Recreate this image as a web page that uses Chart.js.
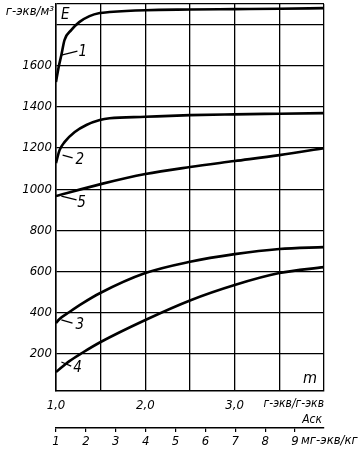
<!DOCTYPE html>
<html>
<head>
<meta charset="utf-8">
<script src="https://cdn.jsdelivr.net/npm/chart.js@4.4.0/dist/chart.umd.min.js"></script>
<style>
  html, body { margin: 0; padding: 0; background: #fff; }
  canvas { display: block; }
</style>
</head>
<body>
<canvas id="chart" width="361" height="450"></canvas>
<script>
// values: m (г-экв/г-экв) vs E (г-экв/м³)
var curve1X = [1.0, 1.03, 1.06, 1.095, 1.17, 1.26, 1.375, 1.49, 1.6, 2.0, 2.5, 3.0, 3.5, 4.0];
var curve1Y = [1521, 1594, 1652, 1725, 1773, 1812, 1841, 1856, 1861, 1870, 1873, 1875, 1877, 1880];

var curve2X = [1.0, 1.04, 1.095, 1.21, 1.34, 1.49, 1.6, 2.0, 2.5, 3.0, 3.5, 4.0];
var curve2Y = [1127, 1190, 1229, 1278, 1312, 1336, 1345, 1352, 1360, 1364, 1367, 1370];

var curve5X = [1.0, 1.5, 2.0, 2.5, 3.0, 3.5, 4.0];
var curve5Y = [967, 1025, 1074, 1108, 1137, 1166, 1200];

var curve3X = [1.0, 1.04, 1.15, 1.3, 1.49, 2.0, 2.5, 3.0, 3.5, 4.0];
var curve3Y = [350, 370, 404, 447, 495, 593, 648, 685, 710, 719];

var curve4X = [1.0, 1.15, 1.3, 1.5, 2.0, 2.5, 3.0, 3.5, 4.0];
var curve4Y = [112, 165, 207, 258, 365, 460, 535, 593, 622];

var xTickValues = [1.0, 1.5, 2.0, 2.5, 3.0, 3.5, 4.0];
var xTickLabels = ['1,0', '', '2,0', '', '3,0', '', ''];
var yTickValues = [200, 400, 600, 800, 1000, 1200, 1400, 1600, 1800, 1900];
var yTickLabels = ['200', '400', '600', '800', '1000', '1200', '1400', '1600', '', ''];
var ackTickValues = [1, 2, 3, 4, 5, 6, 7, 8, 9];

// curve numbers: [text, textX, textY, leaderFromX, leaderFromY, leaderToX, leaderToY]
var curveTags = [
    ['1', 1.30, 1666, 1.06, 1652, 1.24, 1671],
    ['2', 1.265, 1142, 1.074, 1166, 1.186, 1152],
    ['5', 1.285, 933, 1.06, 967, 1.23, 948],
    ['3', 1.265, 341, 1.06, 365, 1.185, 350],
    ['4', 1.24, 132, 1.06, 161, 1.17, 141]
];

var FONT = '"Liberation Sans Narrow", "DejaVu Sans Condensed", sans-serif';

function toPoints(xs, ys) {
    return xs.map(function(x, i) { return { x: x, y: ys[i] }; });
}

function curve(xs, ys) {
    return {
        data: toPoints(xs, ys),
        borderColor: '#000',
        borderWidth: 2.6,
        pointRadius: 0,
        fill: false,
        cubicInterpolationMode: 'monotone'
    };
}

// no extra padding from tick labels, the box sizes are fixed
function noPad(s) {
    s.paddingTop = 0;
    s.paddingBottom = 0;
    s.paddingLeft = 0;
    s.paddingRight = 0;
}

var textPlugin = {
    id: 'texts',
    afterDraw: function(chart) {
        var ctx = chart.ctx;
        var xs = chart.scales.x, ys = chart.scales.y, x2 = chart.scales.x2;
        var a = chart.chartArea;
        ctx.save();
        ctx.fillStyle = '#000';
        ctx.strokeStyle = '#000';
        ctx.textBaseline = 'middle';

        // curve numbers with leader lines
        ctx.lineWidth = 1.3;
        ctx.font = 'italic 15px ' + FONT;
        ctx.textAlign = 'center';
        curveTags.forEach(function(t) {
            ctx.beginPath();
            ctx.moveTo(xs.getPixelForValue(t[3]), ys.getPixelForValue(t[4]));
            ctx.lineTo(xs.getPixelForValue(t[5]), ys.getPixelForValue(t[6]));
            ctx.stroke();
            ctx.fillText(t[0], xs.getPixelForValue(t[1]), ys.getPixelForValue(t[2]));
        });

        // axis names
        ctx.font = 'italic 13px ' + FONT;
        ctx.textAlign = 'right';
        ctx.fillText('г-экв/м³', a.left - 2, a.top + 8);
        ctx.font = 'italic 15px ' + FONT;
        ctx.textAlign = 'left';
        ctx.fillText('E', a.left + 5, a.top + 11);
        ctx.textAlign = 'center';
        ctx.font = 'italic 16px ' + FONT;
        ctx.fillText('m', a.right - 14, a.bottom - 12);
        ctx.font = 'italic 12px ' + FONT;
        ctx.textAlign = 'right';
        ctx.fillText('г-экв/г-экв', a.right, a.bottom + 13);
        ctx.fillText('Аск', a.right - 2, a.bottom + 29);
        ctx.textAlign = 'left';
        ctx.font = 'italic 13px ' + FONT;
        ctx.fillText('мг-экв/кг', x2.getPixelForValue(9) + 6, x2.top + 13);
        ctx.restore();
    }
};

new Chart(document.getElementById('chart'), {
    type: 'line',
    data: {
        datasets: [
            curve(curve1X, curve1Y),
            curve(curve2X, curve2Y),
            curve(curve5X, curve5Y),
            curve(curve3X, curve3Y),
            curve(curve4X, curve4Y)
        ]
    },
    options: {
        responsive: false,
        animation: false,
        layout: { padding: { top: 4, right: 37, bottom: 0, left: 0 } },
        plugins: { legend: { display: false }, tooltip: { enabled: false } },
        scales: {
            x: {
                type: 'linear',
                position: 'bottom',
                weight: 0,
                min: 1,
                max: 4,
                afterBuildTicks: function(s) {
                    s.ticks = xTickValues.map(function(v) { return { value: v }; });
                },
                afterFit: function(s) { s.height = 37; noPad(s); },
                grid: { color: '#000', lineWidth: 1.3, drawTicks: false },
                border: { color: '#000', width: 1.5 },
                ticks: {
                    color: '#000',
                    padding: 7,
                    maxRotation: 0,
                    autoSkip: false,
                    font: { family: FONT, size: 13, style: 'italic' },
                    callback: function(v, i) { return xTickLabels[i]; }
                }
            },
            x2: {
                type: 'linear',
                position: 'bottom',
                weight: 1,
                min: 1,
                max: 9.97,
                afterBuildTicks: function(s) {
                    s.ticks = ackTickValues.map(function(v) { return { value: v }; });
                },
                afterFit: function(s) { s.height = 22; noPad(s); },
                grid: { drawOnChartArea: false, color: '#000', lineWidth: 1.2, tickLength: 4 },
                border: { color: '#000', width: 1.5 },
                ticks: {
                    color: '#000',
                    padding: 2,
                    maxRotation: 0,
                    autoSkip: false,
                    font: { family: FONT, size: 13, style: 'italic' },
                    callback: function(v) { return String(v); }
                }
            },
            y: {
                type: 'linear',
                min: 20,
                max: 1900,
                afterBuildTicks: function(s) {
                    s.ticks = yTickValues.map(function(v) { return { value: v }; });
                },
                afterFit: function(s) { s.width = 56; noPad(s); },
                grid: { color: '#000', lineWidth: 1.3, drawTicks: false },
                border: { color: '#000', width: 1.5 },
                ticks: {
                    color: '#000',
                    padding: 4,
                    autoSkip: false,
                    font: { family: FONT, size: 13, style: 'italic' },
                    callback: function(v, i) { return yTickLabels[i]; }
                }
            }
        }
    },
    plugins: [textPlugin]
});
</script>
</body>
</html>
